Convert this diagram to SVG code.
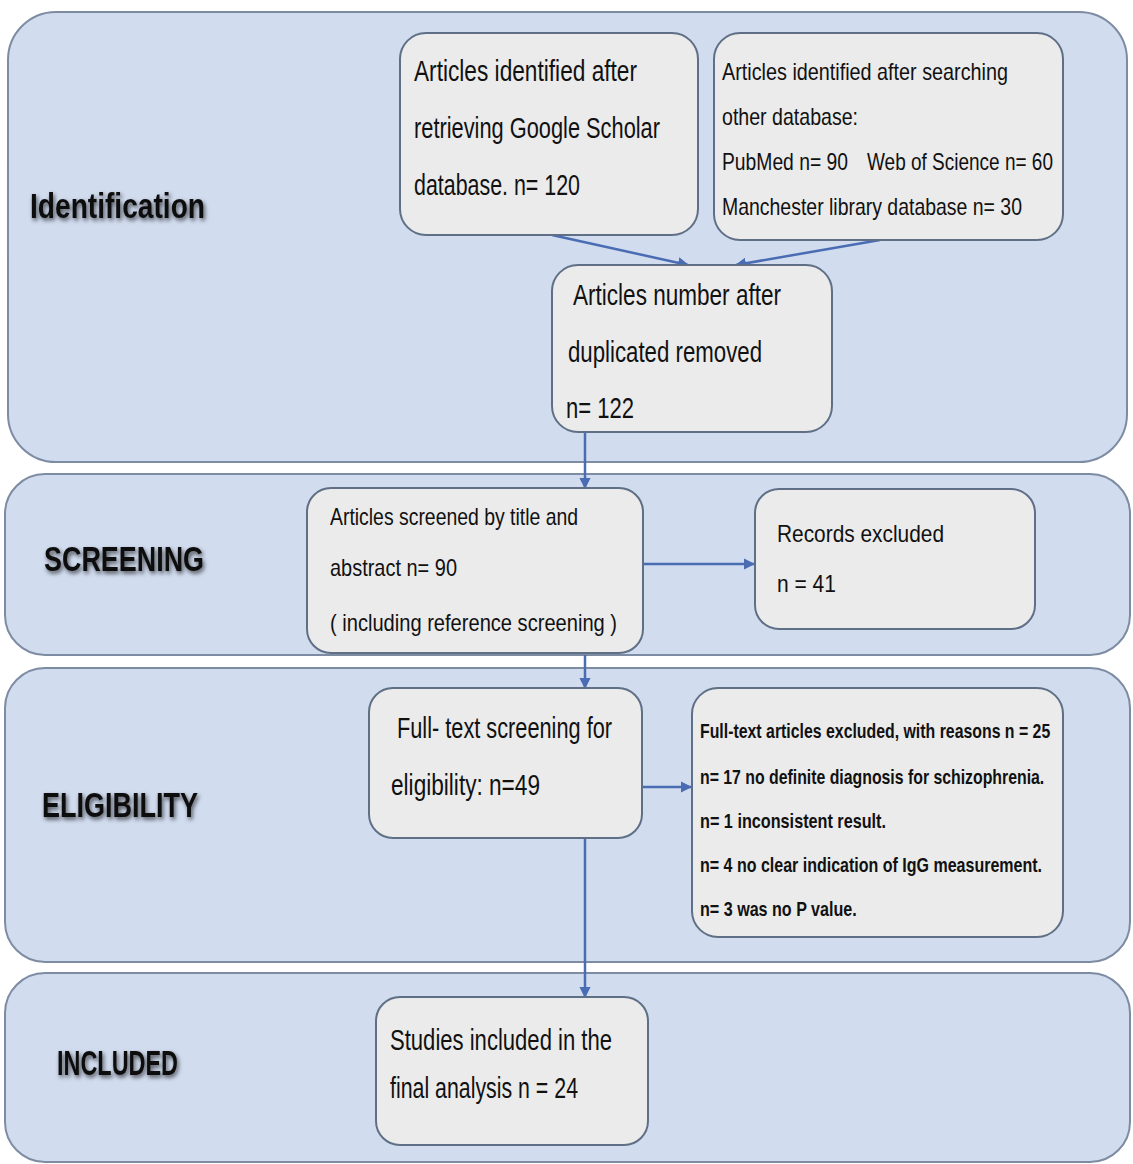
<svg xmlns="http://www.w3.org/2000/svg" width="1133" height="1164" viewBox="0 0 1133 1164">
<style>
.band{fill:#d1dcef;stroke:#7d8ca3;stroke-width:2}
.node{fill:#ebebeb;stroke:#5f6f86;stroke-width:2}
.t{font-family:"Liberation Sans",Arial,sans-serif;fill:#111;font-size:29px}
.s{font-size:24px}
.b{font-weight:bold;font-size:21px}
.lab{font-family:"Liberation Sans",Arial,sans-serif;font-weight:bold;fill:#111;font-size:35px;filter:url(#sh)}
.c{stroke:#4a6cb3;stroke-width:2.5;fill:none;marker-end:url(#ah)}
</style>
<defs>
<marker id="ah" viewBox="0 0 10 10" refX="9" refY="5" markerWidth="4.5" markerHeight="4.5" orient="auto" markerUnits="strokeWidth">
<path d="M0,0 L10,5 L0,10 z" fill="#4a6cb3"/>
</marker>
<filter id="sh" x="-10%" y="-30%" width="120%" height="160%">
<feDropShadow dx="1.5" dy="2.5" stdDeviation="2" flood-color="#000" flood-opacity="0.65"/>
</filter>
</defs>
<rect width="1133" height="1164" fill="#ffffff"/>
<g id="bands">
<rect id="band-identification" class="band" x="8" y="12" width="1119" height="450" rx="48" ry="48"/>
<rect id="band-screening" class="band" x="5" y="474" width="1125" height="181" rx="40" ry="40"/>
<rect id="band-eligibility" class="band" x="5" y="668" width="1125" height="294" rx="40" ry="40"/>
<rect id="band-included" class="band" x="5" y="973" width="1125" height="189" rx="40" ry="40"/>
<text class="lab" x="30" y="218" textLength="175" lengthAdjust="spacingAndGlyphs">Identification</text>
<text class="lab" x="44" y="571" textLength="160" lengthAdjust="spacingAndGlyphs">SCREENING</text>
<text class="lab" x="42" y="817" textLength="156" lengthAdjust="spacingAndGlyphs">ELIGIBILITY</text>
<text class="lab" x="57" y="1075" textLength="121" lengthAdjust="spacingAndGlyphs">INCLUDED</text>
</g>
<g id="connectors">
<line class="c" x1="552" y1="235" x2="688" y2="265"/>
<line class="c" x1="880" y1="240" x2="736" y2="265"/>
<line class="c" x1="585" y1="432" x2="585" y2="488"/>
<line class="c" x1="643" y1="564" x2="754" y2="564"/>
<line class="c" x1="585" y1="655" x2="585" y2="688"/>
<line class="c" x1="642" y1="787" x2="691" y2="787"/>
<line class="c" x1="585" y1="838" x2="585" y2="997"/>
</g>
<g id="node-google">
<rect class="node" x="400" y="33" width="298" height="202" rx="26" ry="26"/>
<text class="t" x="414" y="81" textLength="223" lengthAdjust="spacingAndGlyphs">Articles identified after</text>
<text class="t" x="414" y="138" textLength="246" lengthAdjust="spacingAndGlyphs">retrieving Google Scholar</text>
<text class="t" x="414" y="195" textLength="166" lengthAdjust="spacingAndGlyphs">database. n= 120</text>
</g>
<g id="node-other">
<rect class="node" x="714" y="33" width="349" height="207" rx="26" ry="26"/>
<text class="t s" x="722" y="80" textLength="286" lengthAdjust="spacingAndGlyphs">Articles identified after searching</text>
<text class="t s" x="722" y="125" textLength="136" lengthAdjust="spacingAndGlyphs">other database:</text>
<text class="t s" x="722" y="170"><tspan textLength="126" lengthAdjust="spacingAndGlyphs">PubMed n= 90</tspan><tspan x="867" textLength="186" lengthAdjust="spacingAndGlyphs">Web of Science n= 60</tspan></text>
<text class="t s" x="722" y="215" textLength="300" lengthAdjust="spacingAndGlyphs">Manchester library database n= 30</text>
</g>
<g id="node-dedup">
<rect class="node" x="552" y="265" width="280" height="167" rx="26" ry="26"/>
<text class="t" x="573" y="305" textLength="208" lengthAdjust="spacingAndGlyphs">Articles number after</text>
<text class="t" x="568" y="362" textLength="194" lengthAdjust="spacingAndGlyphs">duplicated removed</text>
<text class="t" x="566" y="418" textLength="68" lengthAdjust="spacingAndGlyphs">n= 122</text>
</g>
<g id="node-screened">
<rect class="node" x="307" y="488" width="336" height="165" rx="24" ry="24"/>
<text class="t s" x="330" y="525" textLength="248" lengthAdjust="spacingAndGlyphs">Articles screened by title and</text>
<text class="t s" x="330" y="576" textLength="127" lengthAdjust="spacingAndGlyphs">abstract  n= 90</text>
<text class="t s" x="330" y="631" textLength="287" lengthAdjust="spacingAndGlyphs">( including reference screening )</text>
</g>
<g id="node-records">
<rect class="node" x="755" y="489" width="280" height="140" rx="24" ry="24"/>
<text class="t s" x="777" y="542" textLength="167" lengthAdjust="spacingAndGlyphs">Records excluded</text>
<text class="t s" x="777" y="592" textLength="59" lengthAdjust="spacingAndGlyphs">n = 41</text>
</g>
<g id="node-fulltext">
<rect class="node" x="369" y="688" width="273" height="150" rx="24" ry="24"/>
<text class="t" x="397" y="738" textLength="215" lengthAdjust="spacingAndGlyphs">Full- text screening for</text>
<text class="t" x="391" y="795" textLength="149" lengthAdjust="spacingAndGlyphs">eligibility: n=49</text>
</g>
<g id="node-excluded">
<rect class="node" x="692" y="688" width="371" height="249" rx="26" ry="26"/>
<g transform="translate(700,0) scale(0.75,1)">
<text class="t b" x="0" y="738" textLength="467" lengthAdjust="spacingAndGlyphs">Full-text articles excluded, with reasons n = 25</text>
<text class="t b" x="0" y="784" textLength="459" lengthAdjust="spacingAndGlyphs">n= 17 no definite diagnosis for schizophrenia.</text>
<text class="t b" x="0" y="828" textLength="248" lengthAdjust="spacingAndGlyphs">n= 1 inconsistent result.</text>
<text class="t b" x="0" y="872" textLength="456" lengthAdjust="spacingAndGlyphs">n= 4 no clear indication of IgG measurement.</text>
<text class="t b" x="0" y="916" textLength="209" lengthAdjust="spacingAndGlyphs">n= 3 was no P value.</text>
</g>
</g>
<g id="node-included">
<rect class="node" x="376" y="997" width="272" height="148" rx="24" ry="24"/>
<text class="t" x="390" y="1050" textLength="222" lengthAdjust="spacingAndGlyphs">Studies included in the</text>
<text class="t" x="390" y="1098" textLength="188" lengthAdjust="spacingAndGlyphs">final analysis n = 24</text>
</g>
</svg>
